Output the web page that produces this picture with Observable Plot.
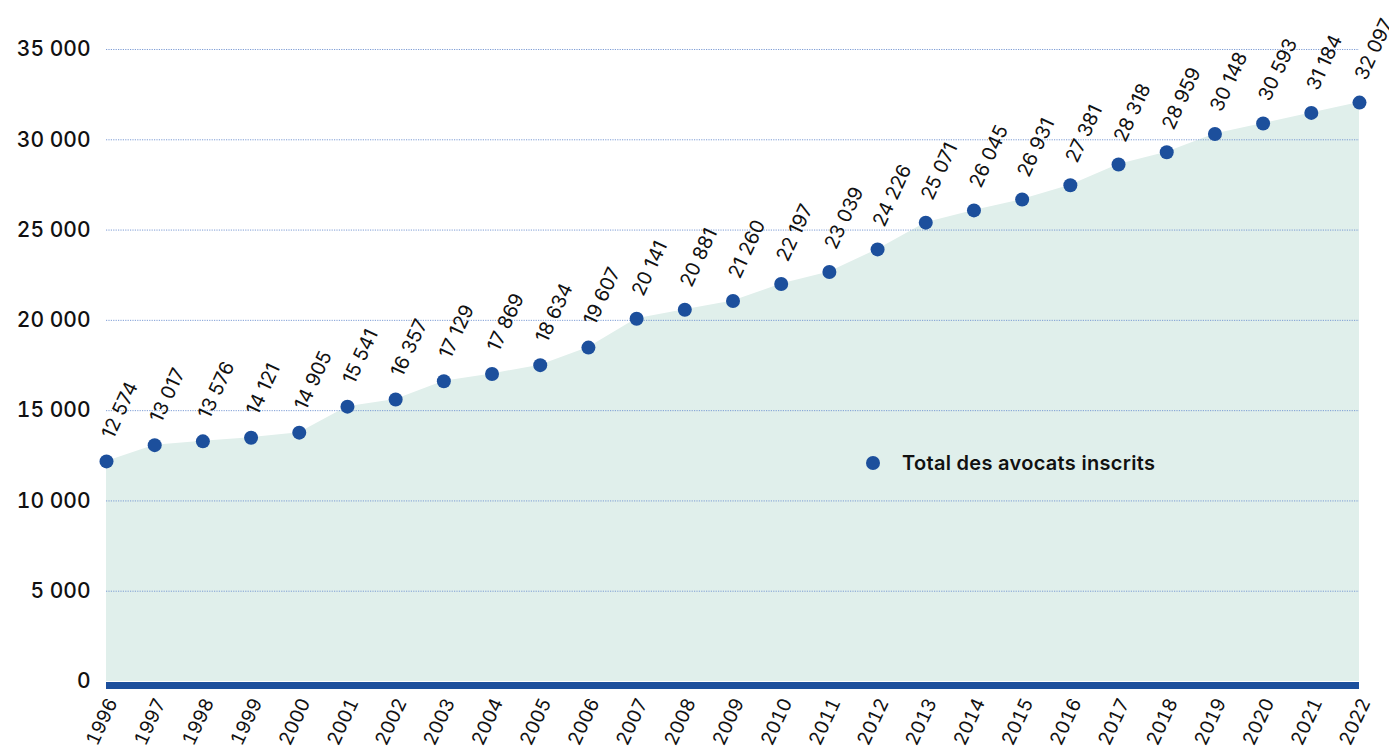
<!DOCTYPE html>
<html>
<head>
<meta charset="utf-8">
<script src="https://cdn.jsdelivr.net/npm/d3@7"></script>
<script src="https://cdn.jsdelivr.net/npm/@observablehq/plot@0.6"></script>
<style>
  html, body { margin: 0; padding: 0; background: #fff; }
  #wrap { position: relative; width: 1389px; height: 753px; font-family: Inter, "Open Sans", sans-serif; }
  #legend { position: absolute; left: 866px; top: 451px; display: flex; align-items: center; font-size: 20px; font-weight: 600; color: #111; letter-spacing: 0.3px; }
  #legend .sw { width: 14px; height: 14px; border-radius: 50%; background: #1c4f9c; margin-right: 22px; }
</style>
</head>
<body>
<div id="wrap"><div id="legend"><span class="sw"></span><span>Total des avocats inscrits</span></div></div>
<script>
const years = [1996, 1997, 1998, 1999, 2000, 2001, 2002, 2003, 2004, 2005, 2006, 2007, 2008,
  2009, 2010, 2011, 2012, 2013, 2014, 2015, 2016, 2017, 2018, 2019, 2020, 2021, 2022];
// positions of the plotted dots
const plotted = [12190, 13090, 13300, 13500, 13780, 15220, 15620, 16630, 17030, 17520, 18490,
  20090, 20590, 21070, 22010, 22680, 23930, 25410, 26090, 26690, 27480, 28630, 29310, 30320,
  30900, 31490, 32060];
// value labels as printed
const valueLabels = ["12 574", "13 017", "13 576", "14 121", "14 905", "15 541", "16 357", "17 129",
  "17 869", "18 634", "19 607", "20 141", "20 881", "21 260", "22 197", "23 039", "24 226", "25 071",
  "26 045", "26 931", "27 381", "28 318", "28 959", "30 148", "30 593", "31 184", "32 097"];
const yTicks = [0, 5000, 10000, 15000, 20000, 25000, 30000, 35000];
const yTickLabels = ["0", "5 000", "10 000", "15 000", "20 000", "25 000", "30 000", "35 000"];
const seriesName = "Total des avocats inscrits";

const data = years.map((year, i) => ({year, value: plotted[i], label: valueLabels[i]}));

const blue = "#1c4f9c";
const chart = Plot.plot({
  width: 1389,
  height: 753,
  marginLeft: 106,
  marginRight: 30,
  marginTop: 49,
  marginBottom: 72,
  style: {fontFamily: "Inter, 'Open Sans', sans-serif", color: "#111", background: "transparent"},
  x: {domain: [1996, 2022]},
  y: {domain: [0, 35000]},
  marks: [
    Plot.areaY(data, {x: "year", y: "value", fill: "#e0efeb"}),
    Plot.gridY(yTicks.filter(d => d > 0), {stroke: "#7092d0", strokeOpacity: 0.9, strokeWidth: 1, strokeDasharray: "1.2,1.2"}),
    Plot.ruleY([0], {stroke: blue, strokeWidth: 7, dy: 4}),
    Plot.axisY(yTicks, {tickSize: 0, tickPadding: 16, fontSize: 21, fontWeight: 500, fill: "#111",
      tickFormat: d => yTickLabels[yTicks.indexOf(d)], label: null}),
    Plot.axisX(years, {tickSize: 0, tickPadding: 18, tickRotate: -65, fontSize: 19, fill: "#111",
      dx: 6, tickFormat: d => String(d), label: null}),
    Plot.dot(data, {x: "year", y: "value", r: 7, fill: blue}),
    Plot.text(data, {x: "year", y: "value", text: "label", rotate: -65, textAnchor: "start",
      dy: -24, dx: 1, fontSize: 19.5, fill: "#111"})
  ]
});
document.getElementById("wrap").prepend(chart);
</script>
</body>
</html>
